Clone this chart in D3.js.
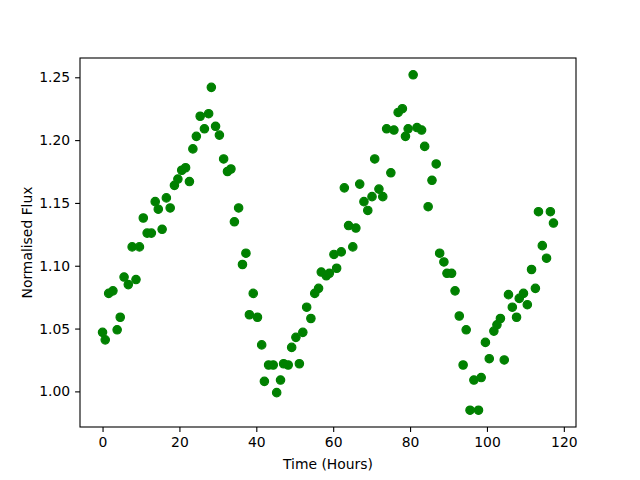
<!DOCTYPE html>
<html>
<head>
<meta charset="utf-8">
<script src="https://cdn.jsdelivr.net/npm/d3@7"></script>
<style>
  body { margin: 0; background: #fff; }
  text { font-family: "DejaVu Sans", sans-serif; }
</style>
</head>
<body>
<div id="chart"></div>
<script>
// time in hours
const hours = [
  0.0, 0.7, 1.6, 2.7, 3.8, 4.6, 5.6, 6.7, 7.7, 8.7,
  9.6, 10.6, 11.6, 12.7, 13.7, 14.5, 15.5, 16.6, 17.6, 18.7,
  19.6, 20.6, 21.6, 22.6, 23.5, 24.4, 25.4, 26.5, 27.6, 28.3,
  29.4, 30.4, 31.5, 32.5, 33.4, 34.3, 35.4, 36.4, 37.3, 38.2,
  39.2, 40.3, 41.4, 42.1, 43.2, 44.4, 45.3, 46.3, 47.1, 48.3,
  49.2, 50.3, 51.2, 52.1, 53.1, 54.2, 55.2, 56.2, 56.9, 58.2,
  59.0, 60.2, 60.9, 62.1, 62.9, 64.0, 65.1, 65.9, 66.9, 68.0,
  69.0, 70.1, 70.8, 71.9, 72.9, 73.9, 75.0, 75.8, 76.9, 78.0,
  78.8, 79.5, 80.8, 81.8, 83.0, 83.8, 84.7, 85.7, 86.8, 87.7,
  88.8, 89.6, 90.8, 91.7, 92.8, 93.8, 94.6, 95.6, 96.6, 97.8,
  98.5, 99.6, 100.6, 101.8, 102.6, 103.5, 104.5, 105.6, 106.6, 107.7,
  108.4, 109.5, 110.5, 111.6, 112.6, 113.4, 114.4, 115.5, 116.5, 117.3
];

const flux = [
  1.047, 1.041, 1.078, 1.080, 1.049, 1.059, 1.091, 1.085, 1.115, 1.089,
  1.115, 1.138, 1.126, 1.126, 1.151, 1.145, 1.129, 1.154, 1.146, 1.164,
  1.169, 1.176, 1.178, 1.167, 1.193, 1.203, 1.219, 1.209, 1.221, 1.242,
  1.211, 1.204, 1.185, 1.175, 1.177, 1.135, 1.146, 1.101, 1.110, 1.061,
  1.078, 1.059, 1.037, 1.008, 1.021, 1.021, 0.999, 1.009, 1.022, 1.021,
  1.035, 1.043, 1.022, 1.047, 1.067, 1.058, 1.078, 1.082, 1.095, 1.092,
  1.094, 1.109, 1.098, 1.111, 1.162, 1.132, 1.115, 1.130, 1.165, 1.151,
  1.144, 1.155, 1.185, 1.161, 1.155, 1.209, 1.174, 1.208, 1.222, 1.225,
  1.203, 1.209, 1.252, 1.210, 1.208, 1.195, 1.147, 1.168, 1.181, 1.110,
  1.103, 1.094, 1.094, 1.080, 1.060, 1.021, 1.049, 0.985, 1.009, 0.985,
  1.011, 1.039, 1.026, 1.048, 1.053, 1.058, 1.025, 1.077, 1.067, 1.059,
  1.074, 1.078, 1.069, 1.097, 1.082, 1.143, 1.116, 1.106, 1.143, 1.134
];

const xTicks = [0, 20, 40, 60, 80, 100, 120];
const yTicks = [1.00, 1.05, 1.10, 1.15, 1.20, 1.25];

const W = 640, H = 480;
const margin = {top: 58, right: 64, bottom: 53, left: 80};
const width = W - margin.left - margin.right;
const height = H - margin.top - margin.bottom;

const data = hours.map((h, i) => ({h: h, f: flux[i]}));

// matplotlib style 5% padding
function padded(ext) {
  const p = (ext[1] - ext[0]) * 0.05;
  return [ext[0] - p, ext[1] + p];
}

const x = d3.scaleLinear()
  .domain(padded(d3.extent(hours)))
  .range([0, width]);

const y = d3.scaleLinear()
  .domain(padded(d3.extent(flux)))
  .range([height, 0]);

const svg = d3.select('#chart').append('svg')
  .attr('width', W)
  .attr('height', H)
  .append('g')
  .attr('transform', 'translate(' + margin.left + ',' + margin.top + ')');

// points
svg.selectAll('circle')
  .data(data)
  .enter().append('circle')
  .attr('cx', d => x(d.h))
  .attr('cy', d => y(d.f))
  .attr('r', 4.2)
  .attr('fill', '#008000')
  .attr('stroke', '#008000')
  .attr('stroke-width', 1.2);

// frame
svg.append('rect')
  .attr('width', width)
  .attr('height', height)
  .attr('fill', 'none')
  .attr('stroke', '#000')
  .attr('stroke-width', 1.1);

const xAxis = d3.axisBottom(x)
  .tickValues(xTicks)
  .tickFormat(d3.format('d'))
  .tickSize(4.9)
  .tickSizeOuter(0)
  .tickPadding(4.9);

const yAxis = d3.axisLeft(y)
  .tickValues(yTicks)
  .tickFormat(d3.format('.2f'))
  .tickSize(4.9)
  .tickSizeOuter(0)
  .tickPadding(4.9);

const gx = svg.append('g')
  .attr('transform', 'translate(0,' + height + ')')
  .call(xAxis);

const gy = svg.append('g')
  .call(yAxis);

[gx, gy].forEach(g => {
  g.select('.domain').remove();
  g.selectAll('.tick line').attr('stroke', '#000').attr('stroke-width', 1.1);
  g.selectAll('.tick text')
    .attr('fill', '#000')
    .style('font-size', '13.9px')
    .style('font-family', '"DejaVu Sans", sans-serif');
});

svg.append('text')
  .attr('x', width / 2)
  .attr('y', height + 42)
  .attr('text-anchor', 'middle')
  .style('font-size', '13.9px')
  .text('Time (Hours)');

svg.append('text')
  .attr('transform', 'rotate(-90)')
  .attr('x', -height / 2)
  .attr('y', -48)
  .attr('text-anchor', 'middle')
  .style('font-size', '13.9px')
  .text('Normalised Flux');
</script>
</body>
</html>
